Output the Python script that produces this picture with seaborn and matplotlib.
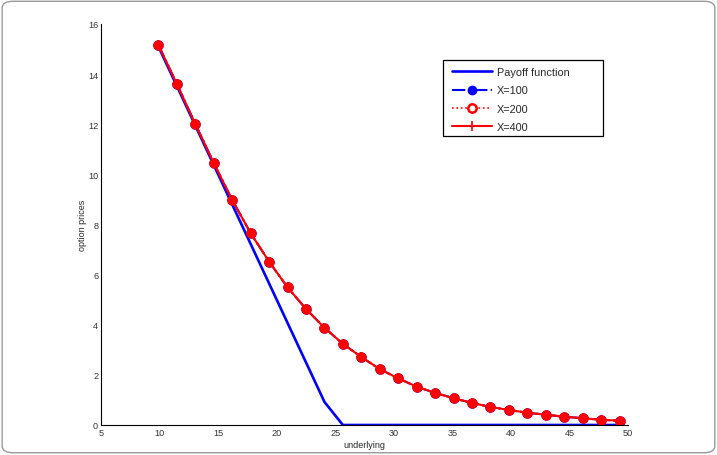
import seaborn as sns
from matplotlib import pyplot as plt
from matplotlib.lines import Line2D
from matplotlib.patches import FancyBboxPatch, Rectangle

# grid of underlying prices
underlying = [9.90, 11.48, 13.05, 14.63, 16.20, 17.78, 19.35, 20.93, 22.50,
              24.08, 25.65, 27.23, 28.80, 30.38, 31.95, 33.53, 35.10, 36.68,
              38.25, 39.83, 41.40, 42.98, 44.55, 46.13, 47.70, 49.28]

payoff = [15.10, 13.52, 11.95, 10.37, 8.80, 7.22, 5.65, 4.07, 2.50,
          0.92, 0.0, 0.0, 0.0, 0.0, 0.0, 0.0, 0.0, 0.0,
          0.0, 0.0, 0.0, 0.0, 0.0, 0.0, 0.0, 0.0]

price_x100 = [15.16, 13.60, 12.01, 10.45, 8.98, 7.65, 6.52, 5.49, 4.63,
              3.88, 3.24, 2.71, 2.23, 1.86, 1.53, 1.28, 1.07, 0.88,
              0.72, 0.60, 0.49, 0.41, 0.33, 0.27, 0.21, 0.17]
price_x200 = [15.16, 13.60, 12.01, 10.45, 8.98, 7.65, 6.52, 5.49, 4.63,
              3.88, 3.24, 2.71, 2.23, 1.86, 1.53, 1.28, 1.07, 0.88,
              0.72, 0.60, 0.49, 0.41, 0.33, 0.27, 0.21, 0.17]
price_x400 = [15.16, 13.60, 12.01, 10.45, 8.98, 7.65, 6.52, 5.49, 4.63,
              3.88, 3.24, 2.71, 2.23, 1.86, 1.53, 1.28, 1.07, 0.88,
              0.72, 0.60, 0.49, 0.41, 0.33, 0.27, 0.21, 0.17]

labels = ['Payoff function', 'X=100', 'X=200', 'X=400']

sns.set_style('white')
plt.rcParams['font.family'] = ['Liberation Sans', 'DejaVu Sans']

fig = plt.figure(figsize=(7.17, 4.56), dpi=100)
ax = fig.add_axes([0.1409, 0.0658, 0.7350, 0.8794])

blue = '#0000ff'
red = '#ff0000'

sns.lineplot(x=underlying, y=payoff, ax=ax, color=blue, linewidth=1.9, sort=False)
sns.lineplot(x=underlying, y=price_x100, ax=ax, color=blue, linewidth=1.5,
             linestyle='-.', marker='o', markersize=6.5, markerfacecolor=blue,
             markeredgecolor=blue, markeredgewidth=1, sort=False)
sns.lineplot(x=underlying, y=price_x200, ax=ax, color=red, linewidth=1.5,
             linestyle=':', marker='o', markersize=6, markerfacecolor=red,
             markeredgecolor=red, markeredgewidth=1.5, sort=False)
sns.lineplot(x=underlying, y=price_x400, ax=ax, color=red, linewidth=1.5,
             linestyle='-', marker='+', markersize=7, markeredgecolor=red,
             markeredgewidth=1.2, sort=False)

ax.set_xlim(5, 50)
ax.set_ylim(0, 16)
ax.set_xticks(range(5, 55, 5))
ax.set_yticks(range(0, 18, 2))
ax.set_xlabel('underlying', fontsize=6.5, labelpad=2)
ax.set_ylabel('option prices', fontsize=6.5, labelpad=1)
ax.tick_params(direction='in', length=4, width=0.6, labelsize=6.6,
               colors='#333333', pad=2)
sns.despine(ax=ax)
for side in ['left', 'bottom']:
    ax.spines[side].set_linewidth(0.8)
    ax.spines[side].set_color('black')

handles = [
    Line2D([], [], color=blue, linewidth=1.9),
    Line2D([], [], color=blue, linewidth=1.5, linestyle='-.', marker='o',
           markersize=6, markerfacecolor=blue, markeredgecolor=blue),
    Line2D([], [], color=red, linewidth=1.2, linestyle=':', marker='o',
           markersize=6, markerfacecolor='white', markeredgecolor=red,
           markeredgewidth=1.8),
    Line2D([], [], color=red, linewidth=1.5, marker='+', markersize=7,
           markeredgewidth=1.2),
]
leg = ax.legend(handles, labels, loc='upper left', bbox_to_anchor=(0.660, 0.901),
                borderaxespad=0, fontsize=7.8, handlelength=3.7,
                handletextpad=0.45, labelspacing=0.78, borderpad=0.3,
                frameon=False)

# MATLAB-style legend box, wider than the entries
ax.add_patch(Rectangle((0.649, 0.721), 0.3036, 0.189, transform=ax.transAxes,
                       facecolor='white', edgecolor='black', linewidth=0.9,
                       zorder=4))
leg.set_zorder(5)

# rounded outer frame around the figure
frame = FancyBboxPatch((0.003, 0.005), 0.994, 0.99, transform=fig.transFigure,
                       boxstyle='round,pad=0,rounding_size=0.015',
                       facecolor='none', edgecolor='#999999', linewidth=1.0)
fig.patches.append(frame)

plt.savefig('out.png', dpi=100)
plt.close()
